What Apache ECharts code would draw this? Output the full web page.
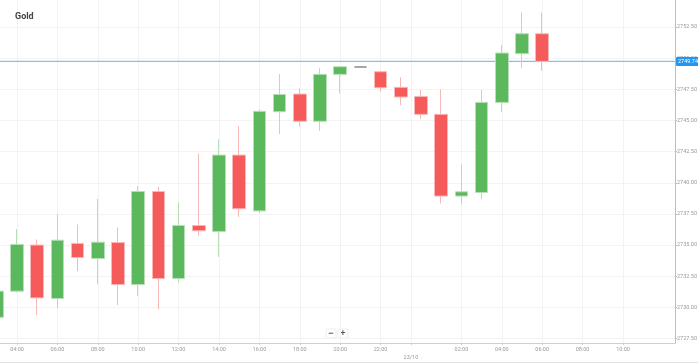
<!DOCTYPE html>
<html>
<head>
<meta charset="utf-8">
<script src="https://cdn.jsdelivr.net/npm/echarts@6/dist/echarts.min.js"></script>
<style>html,body{margin:0;padding:0;background:#fff;}#c{width:698px;height:363px;}</style>
</head>
<body>
<div id="c"></div>
<script>
// hours since 00:00 of 22/10 (24 = 00:00 of 23/10)
const hours  = [3,4,5,6,7,8,9,10,11,12,13,14,15,16,17,18,19,20,21,22,23,24,25,26,27,28,29,30];
const opens  = [2729.2,2731.3,2735.0,2730.71,2735.13,2733.92,2735.2,2731.83,2739.3,2732.31,2736.57,2736.09,2742.22,2737.74,2745.7,2747.12,2744.93,2748.7,2749.29,2748.91,2747.66,2746.93,2745.49,2738.93,2739.22,2746.45,2750.36,2751.96];
const closes = [2731.3,2735.05,2730.76,2735.39,2734.0,2735.23,2731.83,2739.3,2732.31,2736.57,2736.14,2742.22,2737.91,2745.73,2747.09,2744.93,2748.7,2749.31,2749.29,2747.62,2746.88,2745.49,2738.93,2739.27,2746.45,2750.41,2751.96,2749.74];
const lows   = [2729.2,2731.2,2729.37,2729.93,2732.9,2731.86,2730.17,2730.9,2729.85,2731.96,2735.74,2734.05,2737.26,2737.54,2743.91,2744.49,2744.17,2747.17,2749.29,2747.3,2746.23,2745.11,2738.34,2738.26,2738.66,2745.7,2749.18,2748.99];
const highs  = [2731.3,2736.28,2735.45,2737.48,2736.65,2738.71,2736.41,2739.73,2739.67,2738.42,2742.36,2743.48,2744.55,2745.89,2748.72,2747.58,2749.21,2749.35,2749.29,2748.95,2748.46,2747.44,2747.5,2741.47,2747.44,2751.05,2753.65,2753.65];
const xTicks = [4,6,8,10,12,14,16,18,20,22,23.5,26,28,30,32,34];
const yTicks = [2727.5,2730,2732.5,2735,2737.5,2740,2742.5,2745,2747.5,2750,2752.5];
const currentPrice = 2749.74;
const dateLabel = '23/10';
const xMin = 3.1584, xMax = 36.574;

const data = hours.map((h,i)=>[h, opens[i], closes[i], lows[i], highs[i]]);

function xFmt(v){
  if (Math.abs(v-23.5)<0.01) return '\n' + dateLabel;
  const h = Math.round(v) % 24;
  return (h<10?'0':'') + h + ':00';
}

const chart = echarts.init(document.getElementById('c'), null, {renderer:'canvas'});
chart.setOption({
  animation:false,
  backgroundColor:'#fff',
  title:{text:'Gold', left:10, top:7, textStyle:{fontSize:9, fontWeight:'bold', color:'#444', fontFamily:'Roboto'}},
  grid:{left:0, right:23, top:0, bottom:20, containLabel:false, outerBoundsMode:'none'},
  xAxis:{
    type:'value', min:xMin, max:xMax,
    axisLine:{show:true, lineStyle:{color:'#cfcfcf'}},
    axisTick:{show:true, length:2, lineStyle:{color:'#cfcfcf'}, customValues:xTicks},
    axisLabel:{customValues:xTicks, formatter:xFmt, fontSize:5.5, color:'#9a9a9a', margin:3, lineHeight:8, fontFamily:'Roboto'},
    splitLine:{show:true, lineStyle:{color:'#f3f3f3'}}
  },
  yAxis:{
    type:'value', position:'right', min:2727.139, max:2754.667, scale:true,
    axisLine:{show:true, lineStyle:{color:'#bdbdbd'}},
    axisTick:{show:true, length:2, lineStyle:{color:'#bdbdbd'}, customValues:yTicks},
    axisLabel:{customValues:yTicks, formatter:v=>v.toFixed(2), fontSize:5.5, color:'#9a9a9a', margin:2, fontFamily:'Roboto', overflow:'none', width:30},
    splitLine:{show:true, lineStyle:{color:'#f3f3f3'}}
  },
  series:[{
    type:'candlestick',
    encode:{x:0, y:[1,2,3,4]},
    data:data,
    barWidth:13,
    itemStyle:{color:'#5cb85c', color0:'#f65b5b', borderColor:'#b7dfb7', borderColor0:'#f9b8b8', borderColorDoji:'#8a8a8a', borderWidth:1}
  },{
    type:'line',
    data:[[xMin,currentPrice],[xMax,currentPrice]],
    showSymbol:false, symbol:'none', silent:true, z:5,
    lineStyle:{color:'#7fc0f0', width:0, opacity:0},
    endLabel:{show:true, distance:1, formatter:currentPrice.toFixed(2), backgroundColor:'#2196f3', color:'#fff', fontSize:5.5, padding:[2,2,1,2], borderRadius:1, fontFamily:'Roboto'},
    markArea:{
      silent:true,
      itemStyle:{color:'#7fc0f0', opacity:1, borderWidth:0},
      label:{show:false},
      data:[[{yAxis:currentPrice-0.045},{yAxis:currentPrice+0.045}]]
    }
  }],
  graphic:[
    {type:'line', shape:{x1:0,y1:362.5,x2:698,y2:362.5}, style:{stroke:'#e2e2e2', lineWidth:1}},
    {type:'rect', shape:{x:326,y:329,width:10,height:9,r:1}, style:{fill:'#fff', stroke:'#ececec'}},
    {type:'rect', shape:{x:338,y:329,width:10,height:9,r:1}, style:{fill:'#fff', stroke:'#ececec'}},
    {type:'text', style:{text:'−', x:331, y:333.5, align:'center', verticalAlign:'middle', fontSize:9, fontWeight:'bold', fill:'#555'}},
    {type:'text', style:{text:'+', x:343, y:333.5, align:'center', verticalAlign:'middle', fontSize:9, fontWeight:'bold', fill:'#555'}}
  ]
});
</script>
</body>
</html>
